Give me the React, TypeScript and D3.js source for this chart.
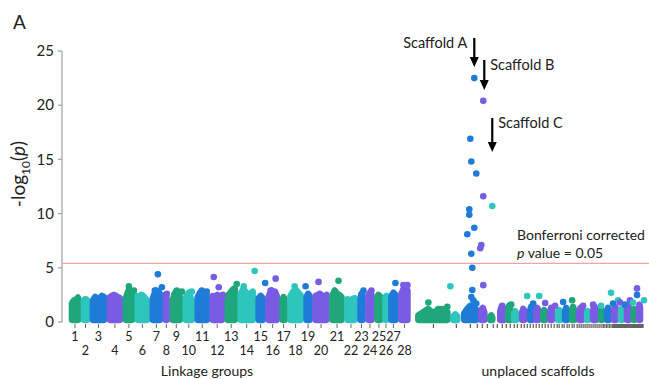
import { useMemo } from 'react';
import * as d3 from 'd3';

const W = 649;
const H = 379;

// green, cyan, blue, purple (cycled per linkage group)
const palette = ['#1fa67a', '#2ec5bd', '#1f7bd8', '#7a5be3'];

// linkage group sizes (arbitrary genome units)
const chromLengths = [12, 9, 17, 16, 12, 15, 13, 7, 13, 12, 15, 15, 13, 18, 10, 14, 8, 16, 9, 17, 15, 13, 8, 9, 9, 5, 10, 12];

// top of the dense SNP cloud along each linkage group (-log10 p)
const chromProfiles: number[][] = [
  [1.7, 1.9, 2.0, 1.9, 2.1, 2.25],
  [2.0, 2.1, 2.1, 2.0],
  [2.0, 2.3, 2.1, 2.2, 2.4, 2.3],
  [2.3, 2.4, 2.5, 2.4, 2.3, 2.2],
  [2.2, 2.6, 3.0, 2.7, 2.6],
  [2.4, 2.3, 2.5, 2.4, 2.2, 2.0],
  [2.2, 2.6, 2.9, 2.8, 2.6],
  [2.5, 2.3, 1.9],
  [2.0, 2.6, 2.8, 2.7, 2.3],
  [2.2, 2.5, 2.7, 2.3, 2.0],
  [2.3, 2.7, 2.8, 2.6, 2.4],
  [2.4, 2.2, 2.5, 2.3, 2.4],
  [2.4, 2.6, 2.8, 3.0, 3.1],
  [2.6, 3.0, 2.8, 2.5, 2.6, 2.8],
  [2.2, 2.4, 2.2],
  [2.3, 2.7, 2.9, 2.6, 2.8, 2.4],
  [2.0, 2.3, 2.1],
  [2.4, 2.8, 3.0, 2.7, 2.5],
  [2.3, 2.6, 2.4],
  [2.4, 2.5, 2.6, 2.4, 2.3, 2.5],
  [2.5, 2.9, 2.6, 2.5, 2.3],
  [2.1, 2.0, 2.1, 2.2],
  [2.2, 2.6, 2.4],
  [2.5, 2.7, 2.5],
  [2.3, 2.5, 2.4, 2.3],
  [2.3, 2.4],
  [2.4, 2.7, 2.5],
  [2.6, 3.0, 3.1, 2.9],
];

// stand-out SNPs on linkage groups: [group, position in group, -log10 p]
const chromPeaks: [number, number, number][] = [
  [5, 6, 3.3], [5, 11, 2.9],
  [7, 8, 4.4], [7, 5, 2.9], [7, 12, 3.2],
  [8, 4, 2.6],
  [9, 7, 2.9], [9, 12, 2.8],
  [10, 9, 2.8],
  [11, 7, 2.9], [11, 12, 2.8],
  [12, 4, 4.15], [12, 9, 3.2], [12, 13, 2.5],
  [13, 12, 3.5],
  [14, 6, 3.3], [14, 17, 4.7],
  [15, 9.5, 3.6],
  [16, 10, 4.0], [16, 5, 2.9],
  [18, 7, 3.3],
  [19, 2, 3.3],
  [20, 6, 3.7],
  [21, 9, 3.8],
  [23, 6, 2.9],
  [24, 6, 2.9],
  [27, 7, 3.6],
  [28, 5, 3.4], [28, 9, 3.4],
];

const gap = 5;
const unplacedLength = 228;

// dense low cloud on unplaced scaffolds: [start, end, colour, heights]
const unplacedBlobs: [number, number, number, number[]][] = [
  [0, 35, 0, [0.6, 0.9, 1.2, 0.8, 1.1, 1.2, 0.9]],
  [35, 45, 1, [0.5, 0.7, 0.5]],
  [46, 64, 2, [0.8, 1.2, 1.5, 1.4, 1.1]],
  [63, 72, 3, [1.1, 1.3, 0.9]],
  [72, 80, 0, [0.5, 0.6, 0.4]],
  [82, 92, 3, [1.0, 1.4, 1.3, 1.1]],
  [90, 98, 0, [1.2, 1.5, 1.0]],
  [96, 104, 1, [0.8, 1.0, 0.7]],
  [104, 112, 3, [0.9, 1.2, 1.0]],
  [112, 120, 2, [1.1, 1.4, 1.1]],
  [118, 126, 3, [1.0, 1.3, 1.1]],
  [125, 133, 0, [0.8, 1.1, 0.9]],
  [132, 140, 3, [1.0, 1.3, 1.1]],
  [140, 148, 1, [0.9, 1.1, 0.9]],
  [147, 155, 2, [1.0, 1.3, 1.0]],
  [154, 162, 0, [1.1, 1.4, 1.0]],
  [161, 170, 3, [1.0, 1.3, 1.2]],
  [169, 176, 1, [0.8, 1.0, 0.8]],
  [175, 184, 3, [1.1, 1.4, 1.2]],
  [183, 190, 0, [0.9, 1.1, 0.9]],
  [189, 197, 2, [1.0, 1.3, 1.1]],
  [196, 204, 3, [1.1, 1.4, 1.2]],
  [203, 210, 1, [1.0, 1.2, 1.1]],
  [209, 217, 3, [1.2, 1.5, 1.3]],
  [216, 222, 0, [1.0, 1.2, 1.0]],
  [221, 228, 3, [1.2, 1.6, 1.3]],
];

// individual SNPs on unplaced scaffolds: [position, -log10 p, colour]
const unplacedPoints: [number, number, number][] = [
  [13, 1.8, 0], [23, 1.2, 0], [32, 1.4, 0], [35, 3.3, 1],
  [59, 22.5, 2], [68, 20.4, 3], [55, 16.9, 2], [56, 14.8, 2], [61, 13.7, 2],
  [68, 11.6, 3], [77, 10.7, 1], [54, 10.4, 2], [54, 9.9, 2], [59, 8.7, 2],
  [52, 8.1, 2], [66, 7.1, 3], [65, 6.8, 3], [56, 6.3, 2], [57, 5.0, 2],
  [57, 2.95, 2], [68, 3.4, 3], [56, 2.3, 2], [58, 2.0, 2], [61, 1.7, 2],
  [87, 1.5, 3], [96, 1.6, 0], [112, 2.4, 1], [124, 2.4, 1], [118, 1.7, 2],
  [130, 1.75, 3], [148, 1.85, 2], [157, 2.0, 0], [168, 1.5, 3], [178, 1.6, 3],
  [196, 2.7, 1], [203, 2.0, 1], [205, 1.8, 3], [198, 1.7, 2], [215, 2.0, 3],
  [222, 3.1, 3], [222, 2.5, 2], [218, 1.8, 1], [210, 1.6, 2], [140, 1.5, 3],
  [186, 1.5, 1], [229, 2.0, 1],
];

// scaffold boundaries drawn as ticks under the unplaced block
const unplacedTicks = [
  18, 41, 55, 62, 67, 72, 78, 82, 87, 91, 95, 99, 102, 106, 109, 112, 115, 118, 121, 124,
  127, 130, 133, 136, 139, 142, 144, 147, 149, 152, 154, 157, 159, 162, 164, 166, 168, 170,
  172, 174, 176, 178, 180, 182, 184, 186, 188, 189, 191, 192, 194, 195, 197, 198, 199, 200,
  201, 202, 203, 204, 205, 206, 207, 208, 209, 210, 211, 212, 213, 214, 215, 216, 217, 218,
  219, 220, 221, 222, 223, 224, 225, 226, 227, 228,
];

const yTicks = [0, 5, 10, 15, 20, 25];
const bonferroni = 5.4;

const scaffolds = [
  { label: 'Scaffold A', pos: 59, top: 38, tip: 67, side: 'left' },
  { label: 'Scaffold B', pos: 69, top: 60, tip: 90, side: 'right' },
  { label: 'Scaffold C', pos: 77, top: 118, tip: 152, side: 'right' },
];

const font = 'Lato, "Open Sans", sans-serif';
const textColor = '#222';

export default function App() {
  const total = chromLengths.reduce((a, b) => a + b, 0);
  const unplacedStart = total + gap;

  const x = useMemo(
    () => d3.scaleLinear().domain([0, unplacedStart + unplacedLength]).range([69, 643]),
    [unplacedStart]
  );
  const y = useMemo(() => d3.scaleLinear().domain([0, 25]).range([322, 51]), []);

  const starts = useMemo(() => {
    const s: number[] = [];
    let acc = 0;
    chromLengths.forEach((l) => {
      s.push(acc);
      acc += l;
    });
    return s;
  }, []);

  const base = 0.2;
  const area = d3
    .area<[number, number]>()
    .x((d) => x(d[0]))
    .y0(y(base))
    .y1((d) => y(d[1]));

  const blob = (start: number, end: number, heights: number[]) => {
    const inset = Math.min(3, (end - start) / 2 - 0.4);
    const a = start + inset;
    const b = end - inset;
    const n = heights.length;
    const pts: [number, number][] = heights.map((h, i) => [a + (n === 1 ? 0 : (i * (b - a)) / (n - 1)), h]);
    return area(pts) || '';
  };

  const r = 3.3;

  return (
    <svg width={W} height={H} style={{ position: 'absolute', left: 0, top: 0, background: '#fff' }} fontFamily={font}>
      <text x={13} y={29} fontSize={19} fill={textColor}>A</text>

      {/* y axis */}
      <line x1={62} x2={62} y1={y(25)} y2={y(0)} stroke="#a6a6a6" strokeWidth={1.3} />
      {yTicks.map((t) => (
        <g key={t}>
          <line x1={58} x2={62} y1={y(t)} y2={y(t)} stroke="#a6a6a6" strokeWidth={1.3} />
          <text x={54} y={y(t)} dy="0.35em" textAnchor="end" fontSize={15} fill={textColor}>
            {t}
          </text>
        </g>
      ))}
      <text transform={`translate(25,${174}) rotate(-90)`} textAnchor="middle" fontSize={19} fill={textColor}>
        -log
        <tspan fontSize={12} dy={5}>10</tspan>
        <tspan dy={-5}>(</tspan>
        <tspan fontStyle="italic">p</tspan>)
      </text>

      {/* linkage groups */}
      {chromLengths.map((l, i) => (
        <path key={'c' + i} d={blob(starts[i], starts[i] + l, chromProfiles[i])} fill={palette[i % 4]} stroke={palette[i % 4]} strokeWidth={6.6} strokeLinejoin="round" />
      ))}
      {chromPeaks.map(([c, p, v], i) => (
        <circle key={'p' + i} cx={x(starts[c - 1] + p)} cy={y(v)} r={r} fill={palette[(c - 1) % 4]} />
      ))}

      {/* unplaced scaffolds */}
      {unplacedBlobs.map(([s, e, c, h], i) => (
        <path key={'u' + i} d={blob(unplacedStart + s, unplacedStart + e, h)} fill={palette[c]} stroke={palette[c]} strokeWidth={6.6} strokeLinejoin="round" />
      ))}
      {unplacedPoints.map(([p, v, c], i) => (
        <circle key={'q' + i} cx={x(unplacedStart + p)} cy={y(v)} r={r} fill={palette[c]} />
      ))}

      {/* x ticks */}
      {chromLengths.map((l, i) => (
        <line key={'t' + i} x1={x(starts[i] + l / 2)} x2={x(starts[i] + l / 2)} y1={324} y2={328} stroke="#666" strokeWidth={1} />
      ))}
      {unplacedTicks.map((t, i) => (
        <line key={'ut' + i} x1={x(unplacedStart + t)} x2={x(unplacedStart + t)} y1={324} y2={328} stroke="#222" strokeWidth={0.9} />
      ))}
      {chromLengths.map((l, i) => (
        <text key={'l' + i} x={x(starts[i] + l / 2)} y={i % 2 === 0 ? 341 : 355} textAnchor="middle" fontSize={12.5} fill={textColor}>
          {i + 1}
        </text>
      ))}
      <text x={207} y={376} textAnchor="middle" fontSize={14} fill={textColor}>Linkage groups</text>
      <text x={538} y={376} textAnchor="middle" fontSize={14} fill={textColor}>unplaced scaffolds</text>

      {/* Bonferroni threshold */}
      <line x1={62} x2={W} y1={y(bonferroni)} y2={y(bonferroni)} stroke="#f4a3a3" strokeWidth={1.3} />
      <text x={517} y={240} fontSize={14} fill={textColor}>Bonferroni corrected</text>
      <text x={517} y={258} fontSize={14} fill={textColor}>
        <tspan fontStyle="italic">p</tspan> value = 0.05
      </text>

      {/* scaffold annotations */}
      {scaffolds.map((s) => {
        const ax = x(unplacedStart + s.pos);
        return (
          <g key={s.label}>
            <line x1={ax} x2={ax} y1={s.top} y2={s.tip - 8} stroke="#000" strokeWidth={2.2} />
            <path d={`M${ax - 4.5},${s.tip - 10}L${ax + 4.5},${s.tip - 10}L${ax},${s.tip}Z`} fill="#000" />
            <text
              x={s.side === 'left' ? ax - 7 : ax + 6}
              y={s.top + 10}
              textAnchor={s.side === 'left' ? 'end' : 'start'}
              fontSize={14.5}
              fill={textColor}
            >
              {s.label}
            </text>
          </g>
        );
      })}
    </svg>
  );
}
